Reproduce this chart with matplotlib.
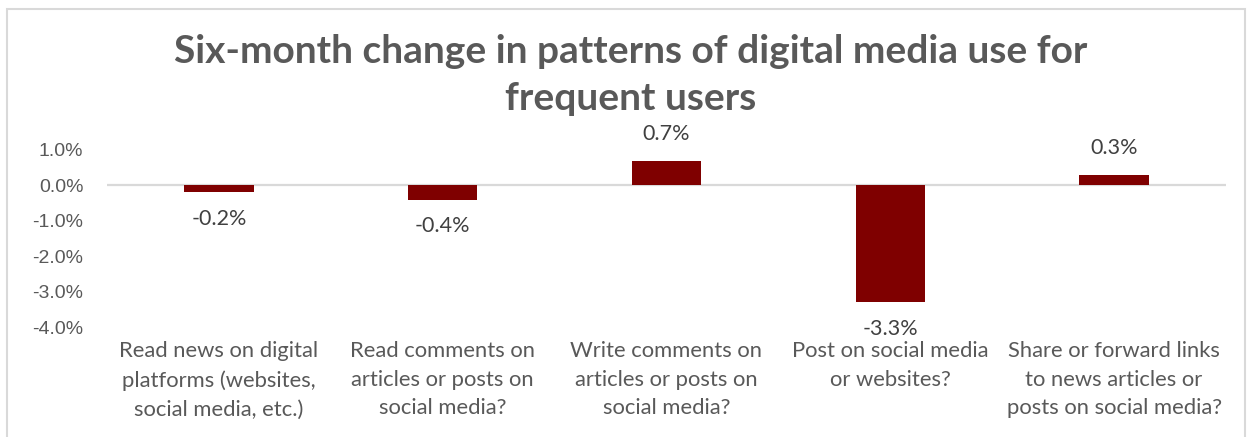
import numpy as np
import matplotlib.pyplot as plt
from matplotlib.patches import Rectangle
from matplotlib.ticker import FuncFormatter

categories = [
    "Read news on digital\nplatforms (websites,\nsocial media, etc.)",
    "Read comments on\narticles or posts on\nsocial media?",
    "Write comments on\narticles or posts on\nsocial media?",
    "Post on social media\nor websites?",
    "Share or forward links\nto news articles or\nposts on social media?",
]
change = [-0.2, -0.4, 0.7, -3.3, 0.3]
yticks = [1.0, 0.0, -1.0, -2.0, -3.0, -4.0]

bar_color = '#7F0000'
grey = '#595959'
label_font = 'Lato'

fig = plt.figure(figsize=(12.52, 4.37), dpi=100)
W, H = 1252, 437

# light frame around the chart area
fig.patches.append(Rectangle((7 / W, -0.1), (1245 - 7) / W, (H - 9) / H + 0.1,
                             transform=fig.transFigure, fill=False,
                             edgecolor='#D9D9D9', lw=1.5))

ax = fig.add_axes([107 / W, (H - 327) / H, (1226 - 107) / W, (327 - 150) / H])
x = np.arange(len(categories))
ax.bar(x, change, width=0.31, color=bar_color, zorder=2)
ax.axhline(0, color='#D9D9D9', lw=1.6, zorder=1)

ax.set_xlim(-0.5, len(categories) - 0.5)
ax.set_ylim(-4.0, 1.0)
ax.set_yticks(yticks)
ax.yaxis.set_major_formatter(FuncFormatter(lambda v, p: f"{v:.1f}%"))
for t in ax.get_yticklabels():
    t.set_family('Liberation Sans')
ax.tick_params(axis='y', length=0, pad=17, labelsize=14, labelcolor=grey)

ax.set_xticks(x)
ax.set_xticklabels(categories, family=label_font, fontsize=15.8, color=grey,
                   linespacing=1.55)
ax.tick_params(axis='x', length=0, pad=10)
for s in ax.spines.values():
    s.set_visible(False)

# value labels above/below each bar
for xi, v in zip(x, change):
    off = 19 if v > 0 else -19
    ax.annotate(f"{v:.1f}%", (xi, v), xytext=(0, off), textcoords='offset points',
                ha='center', va='center', fontsize=15.5, family=label_font,
                color='#404040')

fig.text(631 / W, (H - 75) / H,
         "Six-month change in patterns of digital media use for\nfrequent users",
         ha='center', va='center', fontsize=28, fontweight='bold',
         family=label_font, color=grey, linespacing=1.38)

fig.savefig('out.png', dpi=100)
